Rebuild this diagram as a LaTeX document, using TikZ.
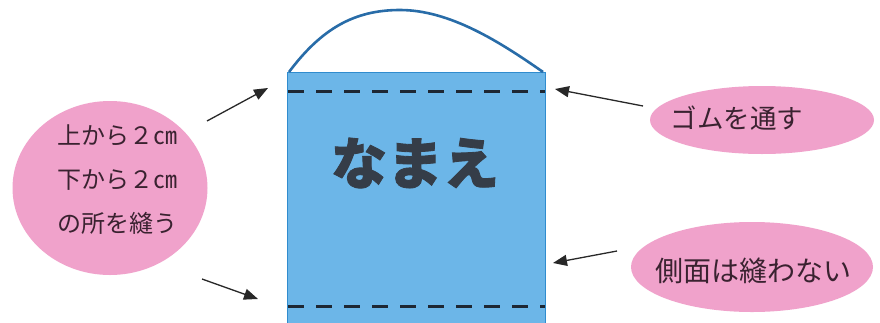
\documentclass[tikz,border=0pt]{standalone}
\usepackage{fontspec}
\newfontfamily\jp{Noto Sans CJK JP}
\newfontfamily\jpheavy{Noto Sans CJK JP}[BoldFeatures={FakeBold=1.5}]
\usetikzlibrary{arrows.meta,shapes.geometric}
\definecolor{pinkfill}{RGB}{240,162,203}
\definecolor{bagfill}{RGB}{108,182,232}
\definecolor{bagedge}{RGB}{48,140,206}
\definecolor{handle}{RGB}{40,108,168}
\definecolor{stitch}{RGB}{30,40,52}
\definecolor{txt}{RGB}{58,34,48}
\definecolor{arrowc}{RGB}{40,40,40}
\tikzset{
  bubble/.style={ellipse, fill=pinkfill, draw=none, inner sep=0pt},
  lbl/.style={font=\jp, text=txt, inner sep=0pt},
  pointer/.style={draw=arrowc, line width=1.3pt, -{Triangle[length=14pt,width=11pt]}},
  stitchline/.style={draw=stitch, line width=3pt, dash pattern=on 16pt off 12pt},
}
\begin{document}
\begin{tikzpicture}[x=1pt,y=-1pt]
\clip (0,0) rectangle (880,322);
\fill[white] (0,0) rectangle (880,322);
% bag
\node[draw=bagedge, fill=bagfill, line width=1.2pt, minimum width=258pt, minimum height=260pt, inner sep=0pt, anchor=north west] (bag) at (287,72) {};
\draw[handle, line width=2.6pt] (bag.north west) ++(2,0) coordinate (hl)
  .. controls (322,28) and (355,10) .. (400,10)
  .. controls (450,10) and (500,42) .. (543,72) coordinate (hr);
\coordinate (t1) at (288,91);
\coordinate (t2) at (545,91);
\coordinate (b1) at (288,306);
\coordinate (b2) at (545,306);
\draw[stitchline] (t1) -- (t2);
\draw[stitchline] (b1) -- (b2);
\node[font=\jpheavy\bfseries, text=stitch!90, inner sep=0pt] (name) at (415,163) {\fontsize{56}{60}\selectfont なまえ};
% left bubble
\node[bubble, minimum width=195pt, minimum height=174pt] (lb) at (110,188) {};
\node[lbl, align=center, font=\jp\fontsize{24}{44}\selectfont] (lt) at (117,180) {上から２㎝\\下から２㎝\\の所を縫う};
% right bubbles
\node[bubble, minimum width=224pt, minimum height=68pt] (rb1) at (762,120) {};
\node[lbl, font=\jp\fontsize{26.5}{30}\selectfont] (rt1) at (737,118) {ゴムを通す};
\node[bubble, minimum width=242pt, minimum height=90pt] (rb2) at (752,267) {};
\node[lbl, font=\jp\fontsize{28}{32}\selectfont] (rt2) at (753,271) {側面は縫わない};
% arrows
\coordinate (a1s) at (207,121);
\coordinate (a1e) at (268,88);
\coordinate (a2s) at (202,279);
\coordinate (a2e) at (258,299);
\coordinate (a3s) at (643,106);
\coordinate (a3e) at (555,89);
\coordinate (a4s) at (617,251);
\coordinate (a4e) at (553,263);
\draw[pointer] (a1s) -- (a1e);
\draw[pointer] (a2s) -- (a2e);
\draw[pointer] (a3s) -- (a3e);
\draw[pointer] (a4s) -- (a4e);
\end{tikzpicture}
\end{document}
